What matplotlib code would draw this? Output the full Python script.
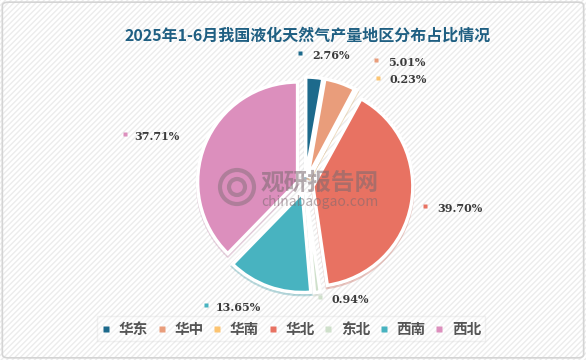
import numpy as np
import matplotlib
matplotlib.use('Agg')
import matplotlib.pyplot as plt
from matplotlib.patches import Rectangle, FancyBboxPatch
from matplotlib.lines import Line2D

plt.rcParams['font.family'] = ['Noto Sans CJK SC', 'DejaVu Sans']

title = '2025年1-6月我国液化天然气产量地区分布占比情况'
regions = ['华东', '华中', '华南', '华北', '东北', '西南', '西北']
shares = [2.76, 5.01, 0.23, 39.70, 0.94, 13.65, 37.71]
colors = ['#1d6a8c', '#e99d7b', '#fcc471', '#e87262', '#cfe0cb', '#48b3c0', '#dc8fbd']

# small nudges so the tiny slices' labels don't collide
nudges = {0: (-0.16, 0.0), 1: (0.29, 0.0), 2: (0.11, -0.09), 3: (-0.08, 0.0),
          4: (0.0, 0.15), 6: (-0.05, 0.0)}

fig = plt.figure(figsize=(5.86, 3.6), dpi=100)
fig.patch.set_facecolor('white')

# hatched background + frame
bg = fig.add_axes([0, 0, 1, 1])
bg.set_xlim(0, 1)
bg.set_ylim(0, 1)
bg.axis('off')
bg.add_patch(Rectangle((0, 0), 1, 1, facecolor='white', edgecolor='#ececec',
                       hatch='//////', lw=0))
bg.add_patch(FancyBboxPatch((0.004, 0.006), 0.992, 0.988, boxstyle='round,pad=0,rounding_size=0.01',
                            facecolor='none', edgecolor='#d4d4d4', lw=1.2))

ax = fig.add_axes([0, 0, 1, 1])
wedges, _ = ax.pie(shares, colors=colors, startangle=90, counterclock=False,
                   radius=1.0, explode=[0.08] * len(shares),
                   wedgeprops=dict(edgecolor='white', linewidth=2.5),
                   shadow=dict(ox=0.0, oy=-0.015, shade=0.15, alpha=0.35))
ax.set_xlim(-3.05, 2.81)
ax.set_ylim(-1.75, 1.85)
ax.axis('off')

# watermark
ax.text(0.15, 0.02, '观研报告网', fontsize=17, fontweight='bold', color='#7a6a70',
        alpha=0.55, ha='center', va='center', zorder=5)
ax.text(0.15, -0.17, 'chinabaogao.com', fontsize=10, color='#7a6a70',
        alpha=0.55, ha='center', va='center', zorder=5)
ax.add_patch(plt.Circle((-0.68, -0.02), 0.17, fill=False, lw=3, ec='#7a6a70', alpha=0.45, zorder=5))
ax.add_patch(plt.Circle((-0.68, -0.02), 0.08, fill=False, lw=3, ec='#7a6a70', alpha=0.45, zorder=5))

# labels
for i, w in enumerate(wedges):
    mid = np.deg2rad((w.theta1 + w.theta2) / 2)
    r = 1.3
    x, y = r * np.cos(mid), r * np.sin(mid)
    dx, dy = nudges.get(i, (0, 0))
    x += dx
    y += dy
    txt = f'{shares[i]:.2f}%'
    if np.cos(mid) >= 0 or i == 4:
        ax.plot(x, y + 0.02, marker='s', ms=3.2, color=colors[i], mec='none')
        ax.text(x + 0.12, y, txt, fontsize=8, fontweight='bold', family='DejaVu Serif',
                color='#3a3a3a', ha='left', va='center')
    else:
        ax.text(x, y, txt, fontsize=8, fontweight='bold', family='DejaVu Serif',
                color='#3a3a3a', ha='right', va='center')
        ax.plot(x - 0.55, y + 0.02, marker='s', ms=3.2, color=colors[i], mec='none')

fig.text(0.525, 0.90, title, fontsize=11.5, fontweight='bold', color='#1f5f82',
         ha='center', va='center')

handles = [Line2D([], [], marker='s', ls='', ms=5, color=c, mec='none') for c in colors]
leg = fig.legend(handles, regions, loc='center', bbox_to_anchor=(0.497, 0.087), ncol=7,
                 frameon=True, fancybox=False, edgecolor='#d6d6d6', facecolor='white',
                 framealpha=0.3, handlelength=0.7, handletextpad=0.5, columnspacing=0.6,
                 borderpad=0.3, prop=dict(size=10.5, weight='bold'))
for t in leg.get_texts():
    t.set_color('#555555')

fig.savefig('out.png', dpi=100)
